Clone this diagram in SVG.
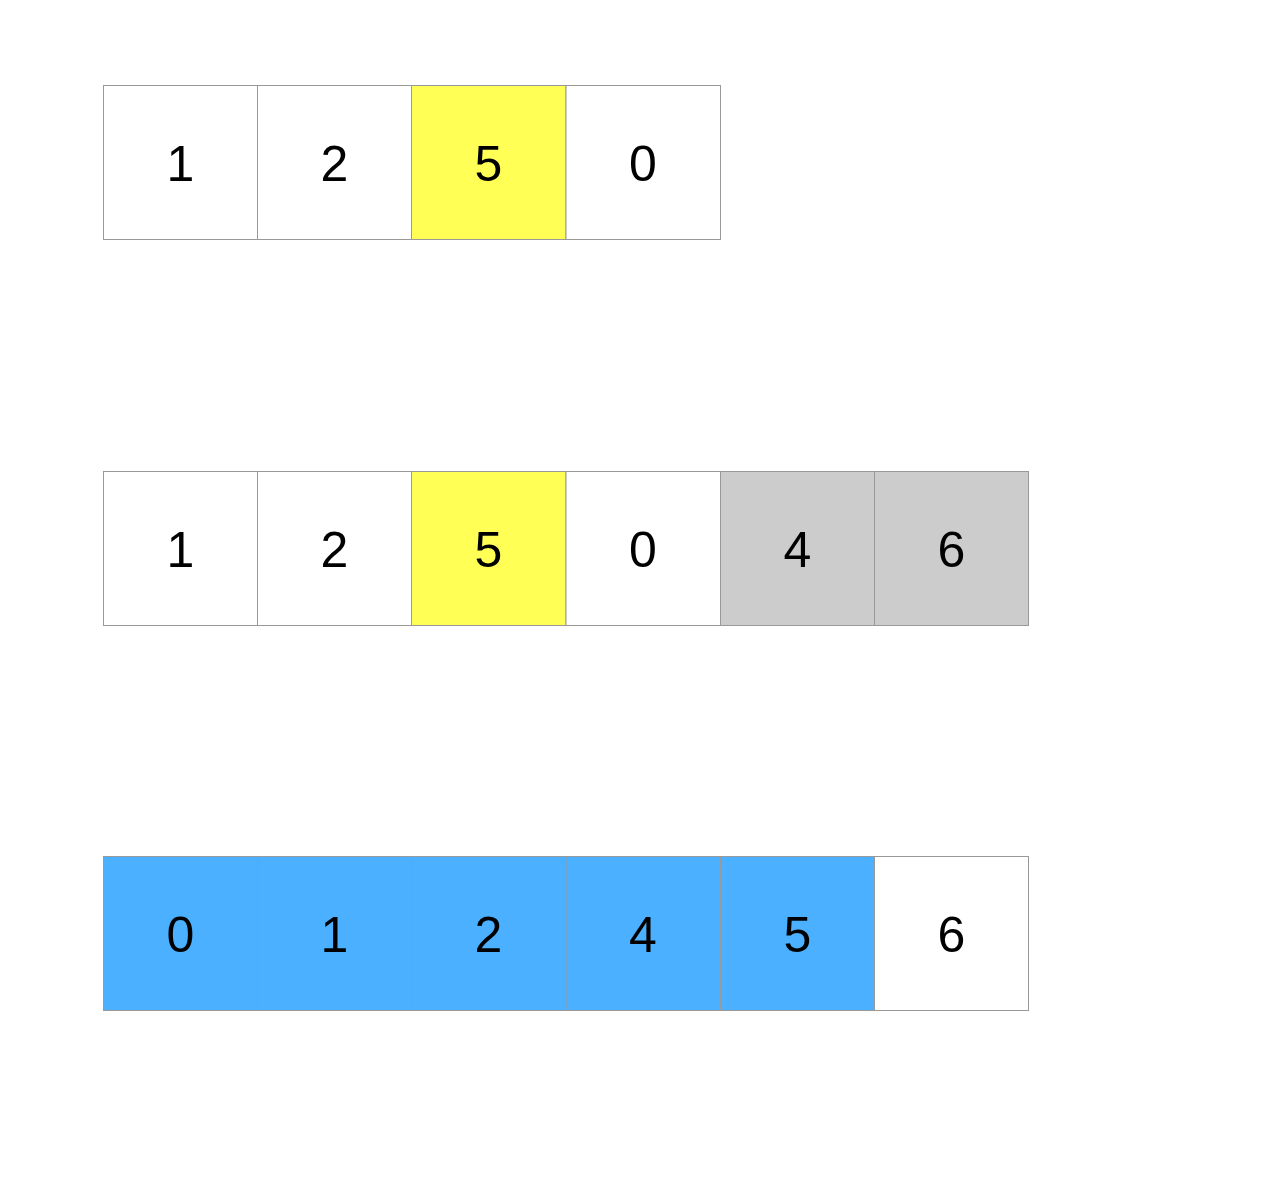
<svg xmlns="http://www.w3.org/2000/svg" width="1274" height="1190" viewBox="0 0 1274 1190">
<style>
.c{stroke:#999999;stroke-width:1}
.w{fill:#ffffff}
.y{fill:#ffff55}
.g{fill:#cccccc}
.b{fill:#4ab0ff}
text{font-family:"Liberation Sans",Arial,sans-serif;font-size:50px;fill:#000000;text-anchor:middle}
</style>
<rect width="1274" height="1190" fill="#ffffff"/>
<g id="row1">
<g id="r1c1"><rect class="c w" x="103.5" y="85.5" width="154" height="154"/><text x="180.5" y="181">1</text></g>
<g id="r1c2"><rect class="c w" x="257.5" y="85.5" width="154" height="154"/><text x="334.5" y="181">2</text></g>
<g id="r1c3"><rect class="c y" x="411.5" y="85.5" width="154.5" height="154"/><text x="488.5" y="181">5</text></g>
<g id="r1c4"><rect class="c w" x="566" y="85.5" width="154.5" height="154"/><text x="643" y="181">0</text></g>
</g>
<g id="row2">
<g id="r2c1"><rect class="c w" x="103.5" y="471.5" width="154" height="154"/><text x="180.5" y="567">1</text></g>
<g id="r2c2"><rect class="c w" x="257.5" y="471.5" width="154" height="154"/><text x="334.5" y="567">2</text></g>
<g id="r2c3"><rect class="c y" x="411.5" y="471.5" width="154.5" height="154"/><text x="488.5" y="567">5</text></g>
<g id="r2c4"><rect class="c w" x="566" y="471.5" width="154.5" height="154"/><text x="643" y="567">0</text></g>
<g id="r2c5"><rect class="c g" x="720.5" y="471.5" width="154" height="154"/><text x="797.5" y="567">4</text></g>
<g id="r2c6"><rect class="c g" x="874.5" y="471.5" width="154" height="154"/><text x="951.5" y="567">6</text></g>
</g>
<g id="row3">
<g id="r3c1"><rect class="c b" x="103.5" y="856.5" width="154" height="154"/><text x="180.5" y="952">0</text></g>
<g id="r3c2"><rect class="c b" x="257.5" y="856.5" width="154" height="154"/><text x="334.5" y="952">1</text></g>
<g id="r3c3"><rect class="c b" x="411.5" y="856.5" width="154.5" height="154"/><text x="488.5" y="952">2</text></g>
<g id="r3c4"><rect class="c b" x="566" y="856.5" width="154.5" height="154"/><text x="643" y="952">4</text></g>
<g id="r3c5"><rect class="c b" x="720.5" y="856.5" width="154" height="154"/><text x="797.5" y="952">5</text></g>
<g id="r3c6"><rect class="c w" x="874.5" y="856.5" width="154" height="154"/><text x="951.5" y="952">6</text></g>
</g>
<g id="connectors"></g>
</svg>
